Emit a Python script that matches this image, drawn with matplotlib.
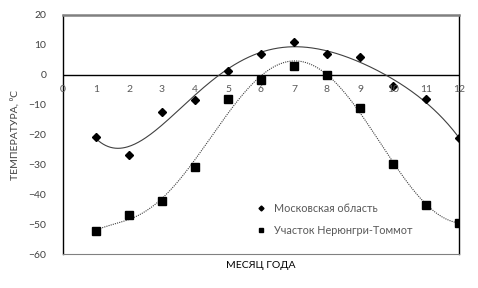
import numpy as np
import matplotlib
matplotlib.use("Agg")
import matplotlib.pyplot as plt

plt.rcParams['font.family'] = ['Lato', 'DejaVu Sans']

months = [1, 2, 3, 4, 5, 6, 7, 8, 9, 10, 11, 12]
moscow = [-20.7, -26.9, -12.6, -8.4, 1.1, 7.1, 10.8, 7.1, 5.8, -3.7, -8.1, -21.3]
nerungri = [-52.4, -47.1, -42.4, -31.0, -8.1, -1.8, 3.0, 0.0, -11.1, -29.9, -43.5, -49.5]
label_moscow = "Московская область"
label_nerungri = "Участок Нерюнгри-Томмот"
xticks = list(range(0, 13))
yticks = [20, 10, 0, -10, -20, -30, -40, -50, -60]

fig = plt.figure(figsize=(4.78, 2.88), dpi=100)
ax = fig.add_axes([63/478, 34/288, 396/478, 239/288])

xs = np.linspace(1, 12, 300)
pm = np.polyfit(months, moscow, 5)
pn = np.polyfit(months, nerungri, 6)
ax.plot(xs, np.polyval(pm, xs), color='#404040', lw=0.8, zorder=2)
ax.plot(xs, np.polyval(pn, xs), color='#404040', lw=0.8, ls=(0, (1, 1)), zorder=2)

ax.plot(months, moscow, ls='none', marker='D', ms=4.2, color='black', label=label_moscow, zorder=3)
ax.plot(months, nerungri, ls='none', marker='s', ms=6, color='black', label=label_nerungri, zorder=3)

ax.axhline(0, color='black', lw=1.0, zorder=1)

ax.set_xlim(0, 12)
ax.set_ylim(-60, 20)
ax.set_yticks(yticks)
ax.set_xticks([])
for x in xticks:
    ax.text(x, -5, str(x), ha='center', va='center', fontsize=7.5, color='#595959')
ax.tick_params(axis='y', length=0, labelsize=7.5, labelcolor='#404040', pad=12)

ax.spines['left'].set_color('black')
ax.spines['left'].set_linewidth(1.0)
ax.spines['right'].set_color('black')
ax.spines['right'].set_linewidth(1.0)
ax.spines['top'].set_color('#808080')
ax.spines['top'].set_linewidth(1.8)
ax.spines['bottom'].set_color('#808080')
ax.spines['bottom'].set_linewidth(0.8)

ax.set_xlabel("МЕСЯЦ ГОДА", fontsize=7.5, color='black', labelpad=5)
ax.set_ylabel("ТЕМПЕРАТУРА, ⁰С", fontsize=7.5, color='#404040', labelpad=6)

leg = ax.legend(loc='lower left', bbox_to_anchor=(0.465, 0.035), frameon=False,
                fontsize=7.8, labelcolor='#595959', markerscale=0.6,
                handlelength=0.8, handletextpad=0.8, labelspacing=1.05)

fig.savefig("out.png", dpi=100)
